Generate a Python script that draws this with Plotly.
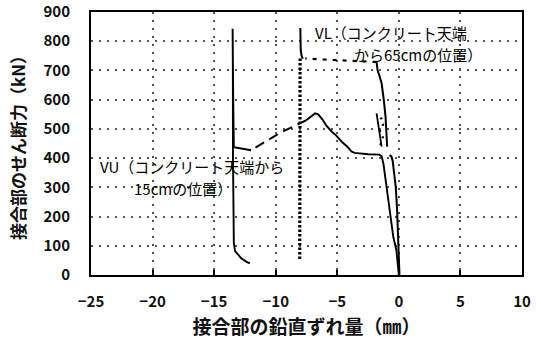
import plotly.graph_objects as go

# Joint shear force (kN) vs. vertical slip at the joint (mm)
# VU: gauge 15 cm below the concrete top
vu_rise_x = [0.0, -0.05, -0.2, -0.45, -0.7, -1.0, -1.25, -1.4, -1.6, -2.5, -3.3, -3.6, -3.85,
             -4.2, -4.64, -5.1, -5.48, -5.9, -6.2, -6.55, -6.8, -7.1, -7.5]
vu_rise_y = [0, 30, 85, 130, 210, 315, 380, 407, 412, 413, 415, 418, 423,
             440, 456, 478, 492, 512, 532, 550, 553, 543, 530]
vu_drop_x = [-7.5, -9.7, -12.0]
vu_drop_y = [530, 485, 427]
vu_stall_x = [-12.0, -12.9, -13.4, -13.45, -13.5, -13.48, -13.47, -13.45, -13.4, -13.3, -12.8, -12.4, -12.1]
vu_stall_y = [427, 433, 437, 600, 843, 700, 400, 200, 108, 82, 57, 46, 40]

# VL: gauge 65 cm below the concrete top
vl_rise_x = [0.05, 0.02, -0.05, -0.15, -0.25, -0.38, -0.5, -0.6, -0.75]
vl_rise_y = [0, 40, 120, 230, 300, 348, 390, 405, 411]
vl_step_x = [-1.4, -1.6, -1.81]
vl_step_y = [439, 500, 553]
vl_scatter_x = [-1.5, -1.3, -1.55, -1.28, -1.45, -1.15]
vl_scatter_y = [445, 472, 495, 515, 535, 545]
vl_climb_x = [-0.95, -1.0, -1.08, -1.22, -1.4, -1.6, -1.73, -1.81]
vl_climb_y = [439, 485, 541, 598, 656, 685, 701, 729]
vl_jump_x = [-1.81, -2.5, -3.9, -5.0, -6.5, -7.6]
vl_jump_y = [729, 730, 731, 735, 738, 741]
vl_top_x = [-7.8, -7.9, -7.97, -8.0, -8.0]
vl_top_y = [740, 750, 770, 800, 845]
vl_hold_x = [-8.02, -8.05]
vl_hold_y = [741, 51]

x_ticks = [-25, -20, -15, -10, -5, 0, 5, 10]
y_ticks = [0, 100, 200, 300, 400, 500, 600, 700, 800, 900]

segments = [
    (vu_rise_x, vu_rise_y, dict(width=1.9, dash="solid")),
    (vu_drop_x, vu_drop_y, dict(width=2, dash="10px,6px")),
    (vu_stall_x, vu_stall_y, dict(width=1.9, dash="solid")),
    (vl_rise_x, vl_rise_y, dict(width=2, dash="solid")),
    (vl_step_x, vl_step_y, dict(width=1.8, dash="solid")),
    (vl_scatter_x, vl_scatter_y, dict(width=2.2, dash="2px,5px")),
    (vl_climb_x, vl_climb_y, dict(width=2, dash="solid")),
    (vl_jump_x, vl_jump_y, dict(width=2.2, dash="4px,6px")),
    (vl_top_x, vl_top_y, dict(width=2, dash="solid")),
    (vl_hold_x, vl_hold_y, dict(width=3.2, dash="2.5px,2px")),
]

fig = go.Figure()
for xs, ys, style in segments:
    fig.add_trace(go.Scatter(x=xs, y=ys, mode="lines",
                             line=dict(color="black", **style),
                             showlegend=False, hoverinfo="skip"))

jp = "Noto Sans CJK JP"
note_font = dict(family=jp, size=15, color="#000")
notes = [
    (-6.95, 831, "VL（コンクリート天端"),
    (-3.8, 756, "から65cmの位置）"),
    (-24.4, 371, "VU（コンクリート天端から"),
    (-21.7, 296, "15cmの位置）"),
]
for nx, ny, txt in notes:
    fig.add_annotation(x=nx, y=ny, text=txt, showarrow=False, xanchor="left",
                       yanchor="middle", font=note_font)

axis_common = dict(showline=True, linecolor="black", linewidth=2, mirror=True,
                   showgrid=True, gridcolor="#555", gridwidth=1.6,
                   griddash="2px,6px", zeroline=False, layer="below traces",
                   automargin=False,
                   tickfont=dict(family=jp, size=15, color="#111", weight="bold"))

fig.update_xaxes(range=[-25, 10], tickvals=x_ticks, ticks="inside", ticklen=5,
                 tickwidth=1.5, tickcolor="black", ticklabelstandoff=12,
                 title=dict(text="接合部の鉛直ずれ量（㎜）", standoff=13,
                            font=dict(family=jp, size=19, color="#111", weight="bold")),
                 **axis_common)
fig.update_yaxes(range=[0, 900], tickvals=y_ticks, ticks="", ticklabelstandoff=16,
                 title=dict(text="接合部のせん断力（kN）", standoff=13,
                            font=dict(family=jp, size=17, color="#111", weight="bold")),
                 **axis_common)

fig.update_layout(width=541, height=339, margin=dict(l=91, r=19, t=12, b=64),
                  plot_bgcolor="white", paper_bgcolor="white")

fig.write_html("out.html")
